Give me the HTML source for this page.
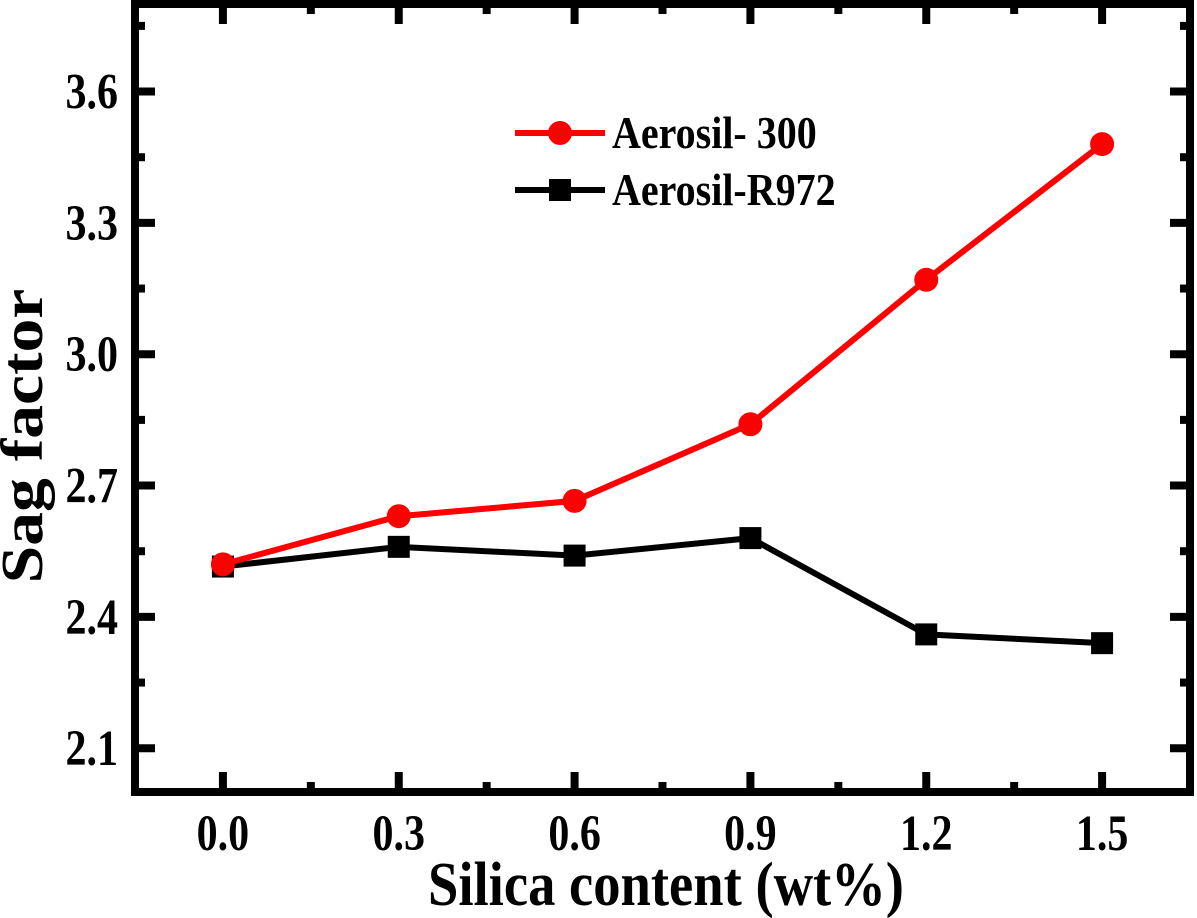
<!DOCTYPE html>
<html><head><meta charset="utf-8"><style>
html,body{margin:0;padding:0;background:#fff}
svg{display:block;font-family:"Liberation Serif",serif;font-weight:bold}
</style></head><body>
<svg id="chart" width="1197" height="918" viewBox="0 0 1197 918"></svg>
<script>
const xCats = [0.0, 0.3, 0.6, 0.9, 1.2, 1.5];
const xTickLabels = ["0.0","0.3","0.6","0.9","1.2","1.5"];
const yTicks = [2.1, 2.4, 2.7, 3.0, 3.3, 3.6];
const yTickLabels = ["2.1","2.4","2.7","3.0","3.3","3.6"];
const aerosil300 = [2.52, 2.63, 2.665, 2.84, 3.17, 3.48];
const aerosilR972 = [2.515, 2.56, 2.54, 2.58, 2.36, 2.34];

const L=135,R=1190,T=4,B=792, X0=-0.15,X1=1.65,Y0=2.0,Y1=3.8;
const sx=v=>L+(v-X0)/(X1-X0)*(R-L);
const sy=v=>B-(v-Y0)/(Y1-Y0)*(B-T);
const svg=document.getElementById('chart');
const NS='http://www.w3.org/2000/svg';
function mk(tag,attrs,parent){const e=document.createElementNS(NS,tag);for(const k in attrs)e.setAttribute(k,attrs[k]);(parent||svg).appendChild(e);return e;}

for(let v=-0.15; v<=1.66; v+=0.15){
  const major=Math.abs(Math.round(v/0.3)*0.3-v)<1e-6;
  const len=major?20:10;const x=sx(v);
  let t=mk('line',{x1:x,x2:x,y1:B,y2:B-len,stroke:'#000','stroke-width':8});
  
  
  t=mk('line',{x1:x,x2:x,y1:T,y2:T+len,stroke:'#000','stroke-width':8});
  
  
}
for(let v=2.1; v<=3.76; v+=0.15){
  const major=Math.abs(Math.round(v/0.3)*0.3-v)<1e-6;
  const len=major?20:10;const y=sy(v);
  let t=mk('line',{x1:L,x2:L+len,y1:y,y2:y,stroke:'#000','stroke-width':8});
  
  
  t=mk('line',{x1:R,x2:R-len,y1:y,y2:y,stroke:'#000','stroke-width':8});
  
  
}
const frame=mk('rect',{x:L,y:T,width:R-L,height:B-T,fill:'none',stroke:'#000','stroke-width':8});



xCats.forEach((v,i)=>{
  const t=mk('text',{x:0,y:0,'text-anchor':'middle','font-size':42,transform:`translate(${sx(v)},850) scale(1,1.2)`});
  t.textContent=xTickLabels[i];
  
  
});
yTicks.forEach((v,i)=>{
  const t=mk('text',{x:0,y:0,'text-anchor':'end','font-size':42,transform:`translate(118,${sy(v)+17}) scale(1,1.2)`});
  t.textContent=yTickLabels[i];
  
  
});
let xt=mk('text',{x:0,y:0,'text-anchor':'middle','font-size':52,transform:'translate(666,905) scale(1.05,1.2)'});
xt.textContent='Silica content (wt%)';


let yt=mk('text',{x:0,y:0,'text-anchor':'middle','font-size':52,transform:'translate(42,436) rotate(-90) scale(1.3,1.15)'});
yt.textContent='Sag factor';



function series(vals,color,shape,name){
  const pts=vals.map((v,i)=>sx(xCats[i])+','+sy(v)).join(' ');
  const pl=mk('polyline',{points:pts,fill:'none',stroke:color,'stroke-width':6});
  
  
  vals.forEach((v,i)=>{
    let m;
    if(shape==='circle') m=mk('circle',{cx:sx(xCats[i]),cy:sy(v),r:12,fill:color});
    else m=mk('rect',{x:sx(xCats[i])-11,y:sy(v)-11,width:22,height:22,fill:color});
    
    
  });
}
series(aerosilR972,'#000','square','aerosil-r972');
series(aerosil300,'#ff0000','circle','aerosil-300');

let l=mk('line',{x1:515,x2:605,y1:133,y2:133,stroke:'#ff0000','stroke-width':6});


l=mk('circle',{cx:560,cy:133,r:12,fill:'#ff0000'});


l=mk('text',{x:0,y:0,'font-size':40,transform:'translate(612,148) scale(1,1.15)'});
l.textContent='Aerosil- 300';


l=mk('line',{x1:515,x2:605,y1:190,y2:190,stroke:'#000','stroke-width':6});


l=mk('rect',{x:549,y:179,width:22,height:22,fill:'#000'});


l=mk('text',{x:0,y:0,'font-size':40,transform:'translate(612,205) scale(1,1.15)'});
l.textContent='Aerosil-R972';


</script>
</body></html>
